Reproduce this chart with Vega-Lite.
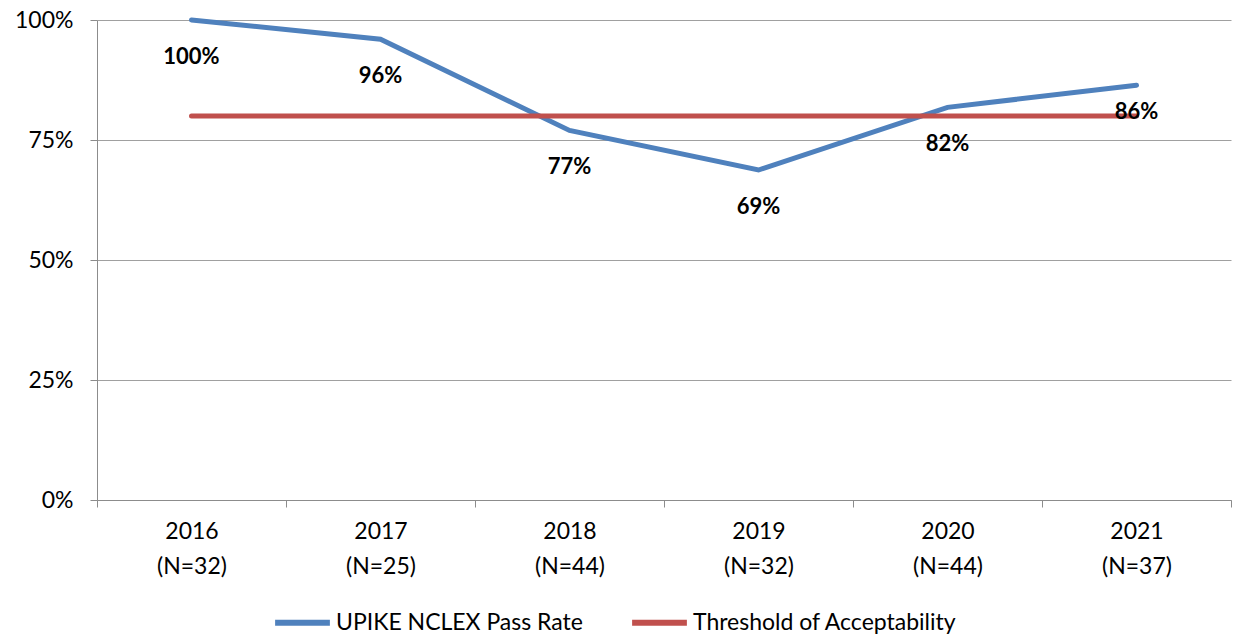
{
  "$schema": "https://vega.github.io/schema/vega-lite/v6.json",
  "width": 1134,
  "height": 480,
  "autosize": {"type": "none"},
  "padding": {"left": 97, "top": 20, "right": 10, "bottom": 136},
  "background": "white",
  "config": {
    "view": {"stroke": null},
    "font": "Lato",
    "axis": {"labelFont": "Lato", "labelFontSize": 23, "labelColor": "#000000", "domainColor": "#8c8c8c", "tickColor": "#8c8c8c", "gridColor": "#a0a0a0"}
  },
  "data": {
    "values": [
      {"year": "2016 (N=32)", "series": "UPIKE NCLEX Pass Rate", "rate": 1.0},
      {"year": "2017 (N=25)", "series": "UPIKE NCLEX Pass Rate", "rate": 0.96},
      {"year": "2018 (N=44)", "series": "UPIKE NCLEX Pass Rate", "rate": 0.77},
      {"year": "2019 (N=32)", "series": "UPIKE NCLEX Pass Rate", "rate": 0.6875},
      {"year": "2020 (N=44)", "series": "UPIKE NCLEX Pass Rate", "rate": 0.818},
      {"year": "2021 (N=37)", "series": "UPIKE NCLEX Pass Rate", "rate": 0.864},
      {"year": "2016 (N=32)", "series": "Threshold of Acceptability", "rate": 0.8},
      {"year": "2017 (N=25)", "series": "Threshold of Acceptability", "rate": 0.8},
      {"year": "2018 (N=44)", "series": "Threshold of Acceptability", "rate": 0.8},
      {"year": "2019 (N=32)", "series": "Threshold of Acceptability", "rate": 0.8},
      {"year": "2020 (N=44)", "series": "Threshold of Acceptability", "rate": 0.8},
      {"year": "2021 (N=37)", "series": "Threshold of Acceptability", "rate": 0.8}
    ]
  },
  "encoding": {
    "x": {
      "field": "year", "type": "nominal", "sort": null,
      "scale": {"paddingInner": 0, "paddingOuter": 0},
      "axis": {"title": null, "labelAngle": 0, "labelExpr": "split(datum.label, ' ')", "labelLineHeight": 35, "labelPadding": 13, "tickBand": "extent", "tickSize": 7, "grid": false, "labelBaseline": "top"}
    },
    "y": {
      "field": "rate", "type": "quantitative",
      "scale": {"domain": [0, 1], "nice": false},
      "axis": {"title": null, "values": [0, 0.25, 0.5, 0.75, 1], "format": ".0%", "tickSize": 7, "labelPadding": 17, "grid": true}
    }
  },
  "layer": [
    {
      "mark": {"type": "line", "strokeWidth": 5, "strokeCap": "round"},
      "encoding": {
        "color": {
          "field": "series", "type": "nominal",
          "scale": {"domain": ["UPIKE NCLEX Pass Rate", "Threshold of Acceptability"], "range": ["#4F81BD", "#C0504D"]},
          "legend": {"title": null, "orient": "none", "legendX": 175, "legendY": 572, "direction": "horizontal", "symbolType": "stroke", "symbolSize": 3000, "symbolStrokeWidth": 6, "labelFontSize": 23, "labelFont": "Lato", "labelColor": "#000000", "labelLimit": 0, "columnPadding": 37, "labelOffset": 3}
        }
      }
    },
    {
      "transform": [{"filter": "datum.series == 'UPIKE NCLEX Pass Rate' && datum.year != '2021 (N=37)'"}],
      "mark": {"type": "text", "dy": 37, "fontSize": 22, "fontWeight": "bold", "font": "Lato"},
      "encoding": {"text": {"field": "rate", "type": "quantitative", "format": ".0%"}}
    },
    {
      "transform": [{"filter": "datum.series == 'UPIKE NCLEX Pass Rate' && datum.year == '2021 (N=37)'"}],
      "mark": {"type": "text", "dy": 27, "fontSize": 22, "fontWeight": "bold", "font": "Lato"},
      "encoding": {"text": {"field": "rate", "type": "quantitative", "format": ".0%"}}
    }
  ]
}
